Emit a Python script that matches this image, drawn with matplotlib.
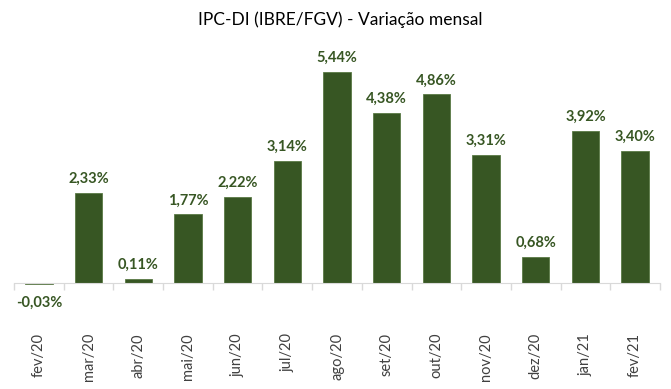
import matplotlib
matplotlib.use("Agg")
import matplotlib.pyplot as plt

categories = ["fev/20", "mar/20", "abr/20", "mai/20", "jun/20", "jul/20", "ago/20",
              "set/20", "out/20", "nov/20", "dez/20", "jan/21", "fev/21"]
values = [-0.03, 2.33, 0.11, 1.77, 2.22, 3.14, 5.44, 4.38, 4.86, 3.31, 0.68, 3.92, 3.40]
labels = ["-0,03%", "2,33%", "0,11%", "1,77%", "2,22%", "3,14%", "5,44%",
          "4,38%", "4,86%", "3,31%", "0,68%", "3,92%", "3,40%"]
title = "IPC-DI (IBRE/FGV) - Variação mensal"

plt.rcParams['font.family'] = ['Lato', 'DejaVu Sans']
green = "#375623"

W, H = 671, 389
fig = plt.figure(figsize=(W/100, H/100), dpi=100)
left, right = 14/W, 660/W
top_px, zero_px = 40, 283
ppu = (283 - 72) / 5.44
ymax = (zero_px - top_px) / ppu
ymin = -0.06
bottom_px = zero_px - ymin * ppu
ax = fig.add_axes([left, 1 - bottom_px/H, right - left, (bottom_px - top_px)/H])

x = list(range(len(categories)))
ax.bar(x, values, width=0.55, color=green, edgecolor="#5a7a45", linewidth=0.6)
ax.set_xlim(-0.5, len(categories) - 0.5)
ax.set_ylim(ymin, ymax)

for xi, v, lab in zip(x, values, labels):
    if v >= 0:
        ax.annotate(lab, (xi, v), xytext=(0, 5), textcoords="offset points",
                    ha="center", va="bottom", color=green, fontsize=10.5, fontweight="bold")
    else:
        ax.annotate(lab, (xi, 0), xytext=(0, -9), textcoords="offset points",
                    ha="center", va="top", color=green, fontsize=10.5, fontweight="bold")

for s in ["top", "right", "left"]:
    ax.spines[s].set_visible(False)
ax.spines["bottom"].set_position(("data", 0))
ax.spines["bottom"].set_color("#D9D9D9")
ax.set_yticks([])
ax.set_xticks(x)
ax.set_xticklabels(categories, rotation=90, fontsize=10.5, color="#404040")
ax.tick_params(axis="x", which="major", length=0, pad=36)
ax.set_xticks([i - 0.5 for i in range(len(categories) + 1)], minor=True)
ax.tick_params(axis="x", which="minor", length=5, color="#D9D9D9", width=1)

fig.text(0.5 * (left + right) + 0.005, 1 - 20/H, title, ha="center", va="center",
         fontsize=12.5, color="#000000")

fig.savefig("out.png", dpi=100)
